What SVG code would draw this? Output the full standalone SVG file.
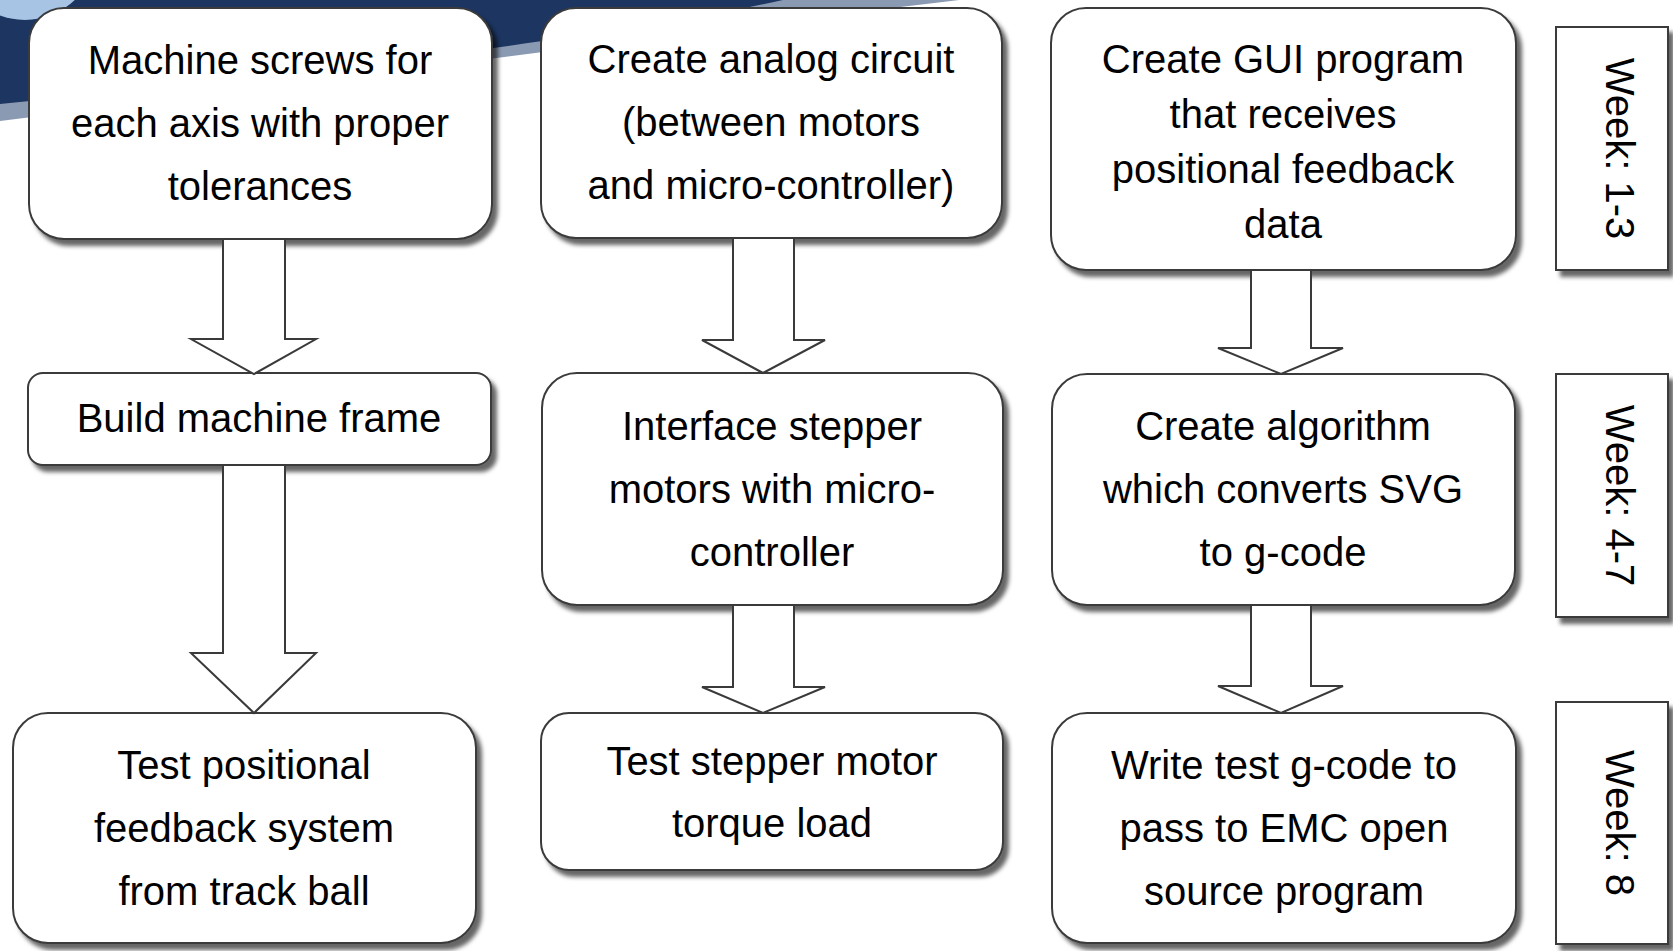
<svg xmlns="http://www.w3.org/2000/svg" width="1673" height="951" viewBox="0 0 1673 951">
<defs>
<filter id="sh" x="-10%" y="-10%" width="125%" height="130%">
<feDropShadow dx="5" dy="6" stdDeviation="2.2" flood-color="#000" flood-opacity="0.6"/>
</filter>
<style>
.box{fill:#fff;stroke:#3a3a3a;stroke-width:2;filter:url(#sh)}
.arr{fill:#fff;stroke:#3a3a3a;stroke-width:2;stroke-linejoin:miter}
.t{font-family:"Liberation Sans",Arial,sans-serif;font-size:40px;fill:#000;text-anchor:middle}
</style>
</defs>
<rect width="1673" height="951" fill="#fff"/>
<g id="background">
<path d="M0,0 H959 C700,30 300,85 0,121 Z" fill="#8b9ab3"/>
<path d="M0,0 H783 C600,40 250,80 0,104 Z" fill="#1c3561"/>
<circle cx="25" cy="-52" r="72" fill="#a7c4e4"/>
</g>
<g id="n1"><rect class="box" x="29" y="8" width="463" height="231" rx="35"/>
<text class="t" x="260" y="74">Machine screws for</text><text class="t" x="260" y="137">each axis with proper</text><text class="t" x="260" y="200">tolerances</text></g>
<g id="n2"><rect class="box" x="28" y="373" width="463" height="92" rx="15"/>
<text class="t" x="259" y="432">Build machine frame</text></g>
<g id="n3"><rect class="box" x="13" y="713" width="463" height="230" rx="35"/>
<text class="t" x="244" y="779">Test positional</text><text class="t" x="244" y="842">feedback system</text><text class="t" x="244" y="905">from track ball</text></g>
<g id="n4"><rect class="box" x="541" y="8" width="461" height="230" rx="35"/>
<text class="t" x="771" y="73">Create analog circuit</text><text class="t" x="771" y="136">(between motors</text><text class="t" x="771" y="199">and micro-controller)</text></g>
<g id="n5"><rect class="box" x="542" y="373" width="461" height="232" rx="35"/>
<text class="t" x="772" y="440">Interface stepper</text><text class="t" x="772" y="503">motors with micro-</text><text class="t" x="772" y="566">controller</text></g>
<g id="n6"><rect class="box" x="541" y="713" width="462" height="157" rx="28"/>
<text class="t" x="772" y="775">Test stepper motor</text><text class="t" x="772" y="837">torque load</text></g>
<g id="n7"><rect class="box" x="1051" y="8" width="465" height="262" rx="35"/>
<text class="t" x="1283" y="73">Create GUI program</text><text class="t" x="1283" y="128">that receives</text><text class="t" x="1283" y="183">positional feedback</text><text class="t" x="1283" y="238">data</text></g>
<g id="n8"><rect class="box" x="1052" y="374" width="463" height="231" rx="35"/>
<text class="t" x="1283" y="440">Create algorithm</text><text class="t" x="1283" y="503">which converts SVG</text><text class="t" x="1283" y="566">to g-code</text></g>
<g id="n9"><rect class="box" x="1052" y="713" width="464" height="230" rx="35"/>
<text class="t" x="1284" y="779">Write test g-code to</text><text class="t" x="1284" y="842">pass to EMC open</text><text class="t" x="1284" y="905">source program</text></g>
<g id="w1"><rect class="box" x="1556" y="27" width="112" height="243"/>
<text class="t" transform="translate(1606,148.5) rotate(90)">Week: 1-3</text></g>
<g id="w2"><rect class="box" x="1556" y="374" width="112" height="243"/>
<text class="t" transform="translate(1606,495.5) rotate(90)">Week: 4-7</text></g>
<g id="w3"><rect class="box" x="1556" y="702" width="112" height="242"/>
<text class="t" transform="translate(1606,823) rotate(90)">Week: 8</text></g>
<g id="connectors">
<path class="arr" d="M223,239 H285 V339 H316 L254,374 L191,339 H223 Z"/>
<path class="arr" d="M223,465 H285 V653 H316 L254,713 L191,653 H223 Z"/>
<path class="arr" d="M733,238 H794 V340 H825 L763,373 L702,340 H733 Z"/>
<path class="arr" d="M733,605 H794 V687 H825 L763,713 L702,687 H733 Z"/>
<path class="arr" d="M1251,270 H1311 V348 H1343 L1281,374 L1218,348 H1251 Z"/>
<path class="arr" d="M1251,605 H1311 V686 H1343 L1281,713 L1218,686 H1251 Z"/>
</g>
</svg>
